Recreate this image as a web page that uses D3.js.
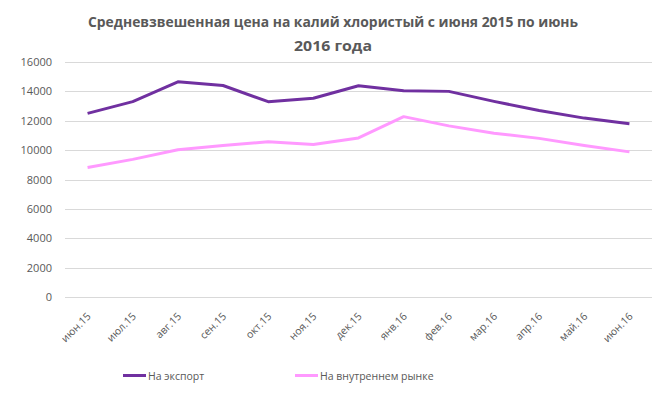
<!DOCTYPE html>
<html>
<head>
<meta charset="utf-8">
<script src="https://cdn.jsdelivr.net/npm/d3@7"></script>
<style>
  body { margin: 0; background: #fff; }
  text { font-family: "Open Sans", "DejaVu Sans", sans-serif; fill: #595959; }
</style>
</head>
<body>
<div class="chart"></div>
<script>
// data
var months = ["июн.15", "июл.15", "авг.15", "сен.15", "окт.15", "ноя.15", "дек.15",
              "янв.16", "фев.16", "мар.16", "апр.16", "май.16", "июн.16"];
var exportPrice = [12500, 13300, 14650, 14400, 13300, 13530, 14380, 14050, 14000, 13320, 12700, 12180, 11800];
var domesticPrice = [8820, 9370, 10030, 10310, 10570, 10380, 10830, 12280, 11650, 11150, 10800, 10310, 9880];
var yTicks = [0, 2000, 4000, 6000, 8000, 10000, 12000, 14000, 16000];
var seriesNames = ["На экспорт", "На внутреннем рынке"];
var seriesColors = ["#7030A0", "#FF99FF"];

var width = 666, height = 393;
var plot = { left: 65, right: 652, top: 62, bottom: 297 };

const svg = d3.select(".chart")
              .append("svg")
              .attr("width", width)
              .attr("height", height);

// title
var title = svg.append("text")
   .attr("text-anchor", "middle")
   .style("font-weight", "bold")
   .style("font-size", "14px");
title.append("tspan").attr("x", 333).attr("y", 27)
     .attr("textLength", 490).attr("lengthAdjust", "spacingAndGlyphs")
     .text("Средневзвешенная цена на калий хлористый с июня 2015 по июнь");
title.append("tspan").attr("x", 333).attr("y", 51)
     .attr("textLength", 78).attr("lengthAdjust", "spacingAndGlyphs")
     .text("2016 года");

const xScale = d3.scaleBand()
                 .domain(months)
                 .range([plot.left, plot.right]);
const yScale = d3.scaleLinear()
                 .domain([0, 16000])
                 .range([plot.bottom, plot.top]);

// grid
svg.append("g")
   .selectAll("line")
   .data(yTicks)
   .enter()
   .append("line")
   .attr("x1", plot.left)
   .attr("x2", plot.right)
   .attr("y1", d => Math.round(yScale(d)) + 0.5)
   .attr("y2", d => Math.round(yScale(d)) + 0.5)
   .attr("stroke", "#D9D9D9")
   .attr("stroke-width", 1);

// y axis labels
const yAxis = d3.axisLeft(yScale)
                .tickValues(yTicks)
                .tickFormat(d3.format("d"))
                .tickSize(0)
                .tickPadding(0);
svg.append("g")
   .attr("transform", "translate(52,0)")
   .call(yAxis)
   .call(g => g.select(".domain").remove())
   .selectAll("text")
   .style("font-size", "11px")
   .attr("fill", "#595959");

// x axis labels
const xAxis = d3.axisBottom(xScale).tickSize(0).tickPadding(0);
svg.append("g")
   .attr("transform", "translate(0," + plot.bottom + ")")
   .call(xAxis)
   .call(g => g.select(".domain").remove())
   .selectAll("text")
   .style("font-size", "10.5px")
   .attr("fill", "#595959")
   .attr("text-anchor", "end")
   .attr("y", 0)
   .attr("dy", "0")
   .attr("transform", "translate(4,20) rotate(-45)");

// lines
var line = d3.line()
             .x((d, i) => xScale(months[i]) + xScale.bandwidth() / 2)
             .y(d => yScale(d));

[exportPrice, domesticPrice].forEach((s, k) => {
  svg.append("path")
     .datum(s)
     .attr("fill", "none")
     .attr("stroke", seriesColors[k])
     .attr("stroke-width", 3)
     .attr("stroke-linejoin", "round")
     .attr("d", line);
});

// legend
var legendX = [123, 295];
seriesNames.forEach((name, k) => {
  svg.append("line")
     .attr("x1", legendX[k]).attr("x2", legendX[k] + 23)
     .attr("y1", 375.5).attr("y2", 375.5)
     .attr("stroke", seriesColors[k])
     .attr("stroke-width", 3);
  svg.append("text")
     .attr("x", legendX[k] + 25)
     .attr("y", 379.5)
     .style("font-size", "10.5px")
     .text(name);
});
</script>
</body>
</html>
